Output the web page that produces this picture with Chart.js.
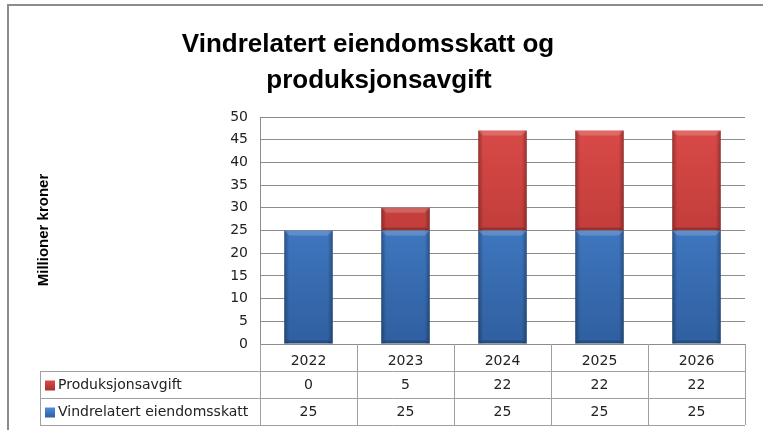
<!DOCTYPE html>
<html>
<head>
<meta charset="utf-8">
<script src="https://cdn.jsdelivr.net/npm/chart.js@4.4.0/dist/chart.umd.min.js"></script>
<style>
  html, body { margin: 0; padding: 0; background: #fff; }
  #wrap { width: 763px; height: 430px; position: relative; }
</style>
</head>
<body>
<div id="wrap"><canvas id="myChart" width="763" height="430"></canvas></div>
<script>
const years = ["2022", "2023", "2024", "2025", "2026"];
const eiendomsskatt = [25, 25, 25, 25, 25];
const produksjonsavgift = [0, 5, 22, 22, 22];
const yTicks = [0, 5, 10, 15, 20, 25, 30, 35, 40, 45, 50];
const titleLines = ["Vindrelatert eiendomsskatt og", "produksjonsavgift"];
const yTitle = "Millioner kroner";

const BLUE = ["#4d8ddd", "#2f5f9f"];
const RED = ["#db4b48", "#a8302e"];
const FONT = "'DejaVu Sans', sans-serif";

function vGrad(ctx, area, cols) {
  const g = ctx.createLinearGradient(0, area.top, 0, area.bottom);
  g.addColorStop(0, cols[0]);
  g.addColorStop(1, cols[1]);
  return g;
}

// bevel look: darker sides, lighter top edge
const bevelPlugin = {
  id: "bevel",
  afterDatasetsDraw(chart) {
    const ctx = chart.ctx;
    chart.data.datasets.forEach((ds, di) => {
      chart.getDatasetMeta(di).data.forEach((bar, i) => {
        if (!ds.data[i]) return;
        const l = bar.x - bar.width / 2, r = bar.x + bar.width / 2;
        const t = Math.min(bar.y, bar.base), b = Math.max(bar.y, bar.base);
        ctx.save();
        let g = ctx.createLinearGradient(l, 0, l + 5, 0);
        g.addColorStop(0, "rgba(0,0,0,0.3)");
        g.addColorStop(1, "rgba(0,0,0,0)");
        ctx.fillStyle = g;
        ctx.fillRect(l, t, 5, b - t);
        g = ctx.createLinearGradient(r, 0, r - 5, 0);
        g.addColorStop(0, "rgba(0,0,0,0.3)");
        g.addColorStop(1, "rgba(0,0,0,0)");
        ctx.fillStyle = g;
        ctx.fillRect(r - 5, t, 5, b - t);
        // top highlight with slanted corners
        ctx.beginPath();
        ctx.moveTo(l, t);
        ctx.lineTo(r, t);
        ctx.lineTo(r - 5, t + 5);
        ctx.lineTo(l + 5, t + 5);
        ctx.closePath();
        ctx.fillStyle = "rgba(255,255,255,0.18)";
        ctx.fill();
        // bottom shade
        ctx.beginPath();
        ctx.moveTo(l, b);
        ctx.lineTo(r, b);
        ctx.lineTo(r - 4, b - 3);
        ctx.lineTo(l + 4, b - 3);
        ctx.closePath();
        ctx.fillStyle = "rgba(0,0,0,0.2)";
        ctx.fill();
        ctx.restore();
      });
    });
  }
};

// title, axis title, outer frame and the data table
const decorPlugin = {
  id: "decor",
  afterDraw(chart) {
    const ctx = chart.ctx;
    const area = chart.chartArea;
    const xs = chart.scales.x;
    ctx.save();

    // frame
    ctx.strokeStyle = "#8c8c8c";
    ctx.lineWidth = 2;
    ctx.beginPath();
    ctx.moveTo(8, 430);
    ctx.lineTo(8, 5);
    ctx.lineTo(763, 5);
    ctx.stroke();

    // title
    ctx.fillStyle = "#000";
    ctx.font = "bold 26px 'Liberation Sans', sans-serif";
    ctx.textAlign = "center";
    ctx.textBaseline = "alphabetic";
    ctx.fillText(titleLines[0], 368, 52);
    ctx.fillText(titleLines[1], 379, 88);

    // y title
    ctx.save();
    ctx.translate(44, 230);
    ctx.rotate(-Math.PI / 2);
    ctx.font = "bold 15px 'Liberation Sans', sans-serif";
    ctx.textBaseline = "middle";
    ctx.fillText(yTitle, 0, 0);
    ctx.restore();

    // table
    const step = (area.right - area.left) / years.length;
    const rowH = 27;
    const top0 = area.bottom, top1 = top0 + rowH, top2 = top1 + rowH, top3 = top2 + rowH;
    const legL = 40;
    ctx.strokeStyle = "#a0a0a0";
    ctx.lineWidth = 1;
    ctx.beginPath();
    for (let i = 0; i <= years.length; i++) {
      const x = Math.round(area.left + i * step) + 0.5;
      ctx.moveTo(x, top0);
      ctx.lineTo(x, top3);
    }
    [top1, top2, top3].forEach(y => {
      ctx.moveTo(legL, Math.round(y) + 0.5);
      ctx.lineTo(area.right, Math.round(y) + 0.5);
    });
    ctx.moveTo(legL + 0.5, top1);
    ctx.lineTo(legL + 0.5, top3);
    ctx.stroke();

    const rows = [
      { name: "Produksjonsavgift", vals: produksjonsavgift, cols: RED },
      { name: "Vindrelatert eiendomsskatt", vals: eiendomsskatt, cols: BLUE }
    ];
    ctx.font = "14px " + FONT;
    ctx.textBaseline = "middle";
    rows.forEach((row, ri) => {
      const cy = top1 + ri * rowH + rowH / 2 + 1;
      // key
      const g = ctx.createLinearGradient(0, cy - 5, 0, cy + 5);
      g.addColorStop(0, row.cols[0]);
      g.addColorStop(1, row.cols[1]);
      ctx.fillStyle = g;
      ctx.fillRect(45, cy - 5, 10, 10);
      ctx.fillStyle = "#222";
      ctx.textAlign = "left";
      ctx.fillText(row.name, 58, cy);
      ctx.textAlign = "center";
      row.vals.forEach((v, i) => {
        ctx.fillText(String(v), xs.getPixelForValue(i), cy);
      });
    });
    ctx.restore();
  }
};

new Chart(document.getElementById("myChart"), {
  type: "bar",
  data: {
    labels: years,
    datasets: [
      {
        label: "Vindrelatert eiendomsskatt",
        data: eiendomsskatt,
        backgroundColor: c => c.chart.chartArea ? vGrad(c.chart.ctx, c.chart.chartArea, BLUE) : BLUE[0],
        borderWidth: 0
      },
      {
        label: "Produksjonsavgift",
        data: produksjonsavgift,
        backgroundColor: c => c.chart.chartArea ? vGrad(c.chart.ctx, c.chart.chartArea, RED) : RED[0],
        borderWidth: 0
      }
    ]
  },
  options: {
    responsive: false,
    animation: false,
    datasets: { bar: { categoryPercentage: 1, barPercentage: 0.5 } },
    layout: { padding: { left: 200, right: 18, top: 117, bottom: 59 } },
    plugins: { legend: { display: false }, title: { display: false }, tooltip: { enabled: false } },
    scales: {
      x: {
        stacked: true,
        grid: { display: false },
        border: { display: false },
        ticks: { color: "#222", font: { family: FONT, size: 14 }, padding: 1, maxRotation: 0 },
        afterFit: s => { s.height = 27; }
      },
      y: {
        stacked: true,
        min: 0,
        max: 50,
        afterBuildTicks: s => { s.ticks = yTicks.map(v => ({ value: v })); },
        grid: { color: "#8c8c8c", drawTicks: false },
        border: { color: "#8c8c8c" },
        ticks: { color: "#222", font: { family: FONT, size: 14 }, padding: 12 },
        afterFit: s => { s.width = 60; }
      }
    }
  },
  plugins: [bevelPlugin, decorPlugin]
});
</script>
</body>
</html>
